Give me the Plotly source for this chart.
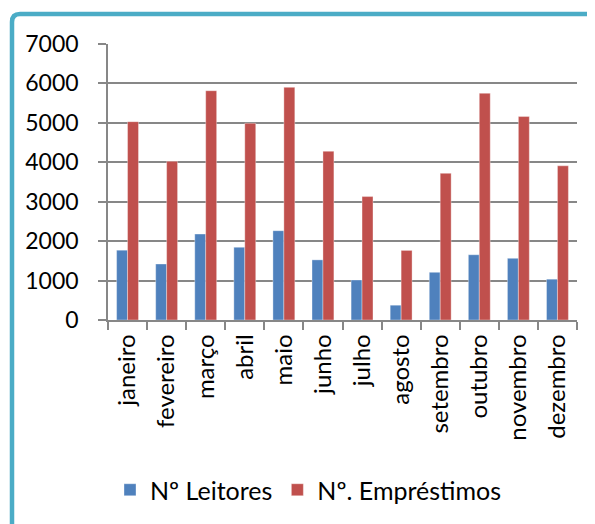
import plotly.graph_objects as go

meses = ["janeiro", "fevereiro", "março", "abril", "maio", "junho", "julho",
         "agosto", "setembro", "outubro", "novembro", "dezembro"]
leitores = [1770, 1420, 2180, 1845, 2265, 1525, 1015, 375, 1210, 1655, 1565, 1035]
emprestimos = [5030, 4025, 5815, 4990, 5900, 4280, 3130, 1765, 3720, 5750, 5160, 3910]
yticks = [0, 1000, 2000, 3000, 4000, 5000, 6000, 7000]

FONT = "Lato, Liberation Sans, Arial, sans-serif"
OFF = 8  # page body margin

fig = go.Figure()
fig.add_trace(go.Bar(x=meses, y=leitores, name="Nº Leitores",
                     marker=dict(color="#4F81BD", line=dict(color="rgba(255,255,255,0.35)", width=1))))
fig.add_trace(go.Bar(x=meses, y=emprestimos, name="Nº. Empréstimos",
                     marker=dict(color="#C0504D", line=dict(color="rgba(255,255,255,0.35)", width=1))))

W, H = 595, 524
# target plot area on the page: x 108..577, y 44..320
ml, mr, mt, mb = 108 - OFF, 18 + OFF, 44 - OFF, 204 + OFF
pw, ph = W - ml - mr, H - mt - mb

def px_x(p):
    return (p - OFF - ml) / pw

def px_y(p):
    return (H - mb - (p - OFF)) / ph

# teal frame (left + top, rounded corner)
xl, yt, r = px_x(12), px_y(14), 8
path = (f"M {px_x(12)},{px_y(560)} L {xl},{px_y(14 + r)} "
        f"Q {xl},{yt} {px_x(12 + r)},{yt} L {px_x(620)},{yt}")

fig.update_layout(
    width=W, height=H,
    margin=dict(l=ml, r=mr, t=mt, b=mb),
    paper_bgcolor="white", plot_bgcolor="white",
    font=dict(family=FONT, size=23, color="black"),
    barmode="group", bargap=0.44, bargroupgap=0,
    showlegend=True,
    legend=dict(orientation="h", x=px_x(110), xanchor="left", y=px_y(490), yanchor="middle",
                font=dict(family=FONT, size=25, color="black"),
                itemwidth=30, traceorder="normal", bgcolor="rgba(0,0,0,0)"),
    shapes=[dict(type="path", path=path, xref="paper", yref="paper",
                 line=dict(color="#4BACC6", width=4.5), layer="above")],
)
fig.update_xaxes(
    type="category", tickangle=-90, showgrid=False,
    showline=True, linecolor="#878787", linewidth=1.5,
    ticks="outside", tickson="boundaries", ticklen=8, tickcolor="#878787", tickwidth=1.5,
    tickfont=dict(family=FONT, size=24, color="black"), ticklabelstandoff=3,
)
fig.update_yaxes(
    range=[0, 7000], tickvals=yticks, ticktext=[str(v) for v in yticks],
    showgrid=True, gridcolor="#878787", gridwidth=1.5,
    showline=True, linecolor="#878787", linewidth=1.5,
    ticks="outside", ticklen=8, tickcolor="#878787", tickwidth=1.5,
    tickfont=dict(family=FONT, size=23, color="black"), ticklabelstandoff=15,
    zeroline=False,
)

fig.write_html("out.html")
